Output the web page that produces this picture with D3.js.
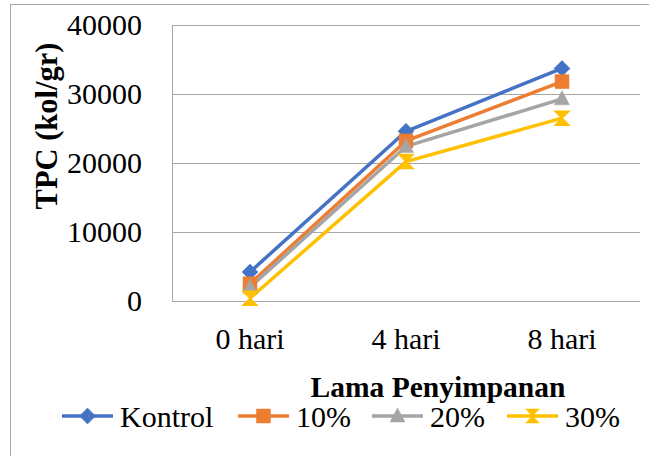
<!DOCTYPE html>
<html><head><meta charset="utf-8">
<script src="https://cdn.jsdelivr.net/npm/d3@7"></script>
<style>body{margin:0;background:#fff;}svg{display:block;}</style>
</head><body>
<svg id="c" width="649" height="456"></svg>
<script>
const categories = ["0 hari", "4 hari", "8 hari"];
const seriesNames = ["Kontrol", "10%", "20%", "30%"];
const kontrol = [4200, 24600, 33700];
const p10 = [2500, 23200, 31800];
const p20 = [2000, 22400, 29300];
const p30 = [400, 20200, 26500];
const yTicks = [0, 10000, 20000, 30000, 40000];
const colors = ["#4472C4", "#ED7D31", "#A5A5A5", "#FFC000"];
const markers = ["diamond", "square", "triangle", "hourglass"];
const seriesValues = [kontrol, p10, p20, p30];

const svg = d3.select("#c");
const font = "'Liberation Serif','Times New Roman',serif";
const L = 172, R = 640, T = 25, B = 301;

svg.append("rect").attr("x", 10.5).attr("y", 4.5).attr("width", 700).attr("height", 500)
  .attr("fill", "none").attr("stroke", "#a6a6a6").attr("stroke-width", 1);

const x = d3.scaleBand().domain(categories).range([L, R]);
const y = d3.scaleLinear().domain([0, 40000]).range([B, T]);

// gridlines
svg.append("g").selectAll("line").data(yTicks).join("line")
  .attr("x1", L).attr("x2", R)
  .attr("y1", d => Math.round(y(d)) + 0.5).attr("y2", d => Math.round(y(d)) + 0.5)
  .attr("stroke", "#a6a6a6").attr("stroke-width", 1);
svg.append("line").attr("x1", L + 0.5).attr("x2", L + 0.5).attr("y1", T).attr("y2", B)
  .attr("stroke", "#a6a6a6");

// y tick labels
svg.append("g").selectAll("text").data(yTicks).join("text")
  .attr("x", 142).attr("y", d => y(d) + 10)
  .attr("text-anchor", "end").attr("font-family", font).attr("font-size", 30)
  .attr("fill", "#000").text(d => d);

// x tick labels
svg.append("g").selectAll("text").data(categories).join("text")
  .attr("x", d => x(d) + x.bandwidth() / 2).attr("y", 349)
  .attr("text-anchor", "middle").attr("font-family", font).attr("font-size", 30)
  .attr("fill", "#000").text(d => d);

// axis titles
svg.append("text").attr("x", 438).attr("y", 397).attr("text-anchor", "middle")
  .attr("font-family", font).attr("font-size", 29.5).attr("font-weight", "bold")
  .text("Lama Penyimpanan");
svg.append("text").attr("transform", "translate(57,126) rotate(-90)")
  .attr("text-anchor", "middle").attr("font-family", font).attr("font-size", 30.5)
  .attr("font-weight", "bold").text("TPC (kol/gr)");

function markerPath(type) {
  if (type === "diamond") return "M0,-8L8,0L0,8L-8,0Z";
  if (type === "square") return "M-7,-7L7,-7L7,7L-7,7Z";
  if (type === "triangle") return "M0,-8L7.5,6L-7.5,6Z";
  return "M-7,-7L7,-7L0,0L7,7L-7,7L0,0Z";
}

const line = d3.line().x((d, i) => x(categories[i]) + x.bandwidth() / 2).y(d => y(d));

seriesValues.forEach((vals, s) => {
  svg.append("path").datum(vals).attr("d", line).attr("fill", "none")
    .attr("stroke", colors[s]).attr("stroke-width", 3.5).attr("stroke-linejoin", "round");
});
seriesValues.forEach((vals, s) => {
  svg.append("g").selectAll("path").data(vals).join("path")
    .attr("transform", (d, i) => `translate(${x(categories[i]) + x.bandwidth() / 2},${y(d)})`)
    .attr("d", markerPath(markers[s]))
    .attr("fill", colors[s]).attr("stroke", colors[s]).attr("stroke-width", markers[s] === "hourglass" ? 1.5 : 0.5)
    .attr("stroke-linejoin", "miter");
});

// legend
const legendX = [62, 238, 372, 507];
const legendG = svg.append("g");
seriesNames.forEach((name, s) => {
  const g = legendG.append("g").attr("transform", `translate(${legendX[s]},416)`);
  g.append("line").attr("x1", 0).attr("x2", 51).attr("y1", 0).attr("y2", 0)
    .attr("stroke", colors[s]).attr("stroke-width", 3.5);
  g.append("path").attr("transform", "translate(25.5,0)").attr("d", markerPath(markers[s]))
    .attr("fill", colors[s]).attr("stroke", colors[s]).attr("stroke-width", 0.5);
  g.append("text").attr("x", 58).attr("y", 11).attr("font-family", font).attr("font-size", 30)
    .attr("fill", "#000").text(name);
});
</script>
</body></html>
